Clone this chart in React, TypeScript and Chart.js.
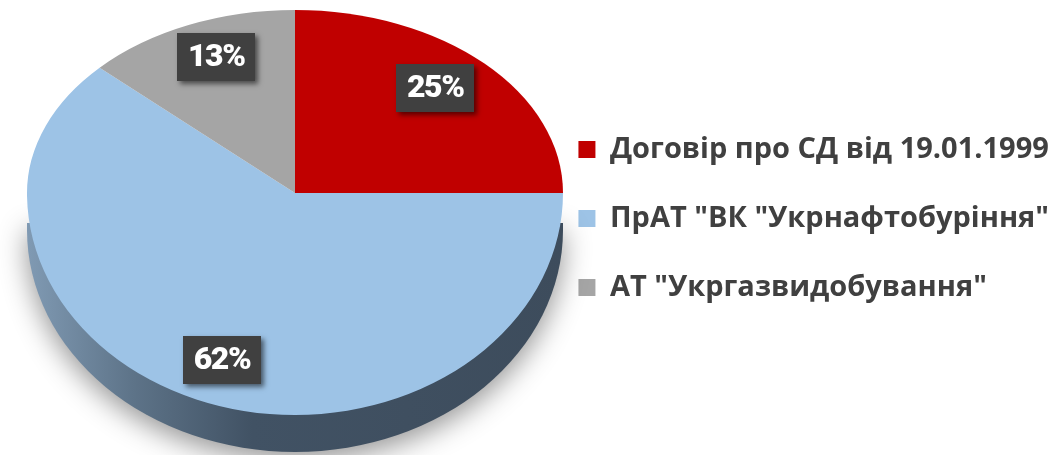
import React, { useEffect, useRef } from 'react';
import { Chart, registerables } from 'chart.js';

Chart.register(...registerables);

const categories = [
  'Договір про СД від 19.01.1999',
  'ПрАТ "ВК "Укрнафтобуріння"',
  'АТ "Укргазвидобування"',
];
const shares = [25, 62, 13];
const sliceColors = ['#C00000', '#9DC3E6', '#A5A5A5'];

const W = 1064;
const H = 455;
// geometry of the tilted (3-D looking) pie
const CX = 295;
const CY = 193;
const RX = 268;
const RY_TOP = 183;
const RY_BOT = 222;
const DEPTH = 37;

const pie3d = {
  id: 'pie3d',
  beforeDatasetsDraw(chart: any) {
    const ctx: CanvasRenderingContext2D = chart.ctx;
    // side wall with soft shadow
    ctx.save();
    const g = ctx.createLinearGradient(CX - RX, 0, CX + RX, 0);
    g.addColorStop(0, '#809ab3');
    g.addColorStop(0.2, '#5d7388');
    g.addColorStop(0.42, '#415264');
    g.addColorStop(1, '#3d4c5c');
    ctx.shadowColor = 'rgba(0,0,0,0.42)';
    ctx.shadowBlur = 28;
    ctx.shadowOffsetY = 8;
    ctx.fillStyle = g;
    ctx.beginPath();
    ctx.ellipse(CX, CY + DEPTH, RX, RY_BOT, 0, 0, Math.PI, false);
    ctx.lineTo(CX - RX, CY + 30);
    ctx.lineTo(CX + RX, CY + 30);
    ctx.closePath();
    ctx.fill();
    ctx.restore();

    // top surface: draw the library's arcs, squashed differently above and below the centre
    const meta = chart.getDatasetMeta(0);
    const halves: [number, number, number][] = [
      [CY - 0.5, H, RY_BOT],
      [0, CY + 0.5, RY_TOP],
    ];
    halves.forEach(([y0, y1, ry]) => {
      ctx.save();
      ctx.beginPath();
      ctx.rect(0, y0, W, y1 - y0);
      ctx.clip();
      meta.data.forEach((arc: any) => {
        const { x, y, outerRadius } = arc.getProps(['x', 'y', 'outerRadius'], true);
        ctx.save();
        ctx.translate(CX, CY);
        ctx.scale(RX / outerRadius, ry / outerRadius);
        ctx.translate(-x, -y);
        arc.draw(ctx);
        ctx.restore();
      });
      ctx.restore();
    });
    return false;
  },
  afterDraw(chart: any) {
    const ctx: CanvasRenderingContext2D = chart.ctx;
    const meta = chart.getDatasetMeta(0);
    const total = shares.reduce((a, b) => a + b, 0);
    meta.data.forEach((arc: any, i: number) => {
      const { startAngle, endAngle } = arc.getProps(['startAngle', 'endAngle'], true);
      const a = (startAngle + endAngle) / 2;
      const c = Math.cos(a);
      const s = Math.sin(a);
      const lx = CX + RX * 0.74 * c;
      const ly = CY + (s < 0 ? RY_TOP : RY_BOT) * 0.81 * s;
      const txt = Math.round((shares[i] / total) * 100) + '%';
      const bw = 78;
      const bh = 48;
      ctx.save();
      ctx.shadowColor = 'rgba(0,0,0,0.55)';
      ctx.shadowBlur = 5;
      ctx.shadowOffsetX = 3;
      ctx.shadowOffsetY = 3;
      ctx.fillStyle = '#404040';
      ctx.fillRect(Math.round(lx - bw / 2), Math.round(ly - bh / 2), bw, bh);
      ctx.restore();
      ctx.save();
      ctx.fillStyle = '#ffffff';
      ctx.font = '900 32px Roboto';
      (ctx as any).letterSpacing = '-1.5px';
      ctx.textAlign = 'center';
      ctx.textBaseline = 'middle';
      ctx.fillText(txt, lx, ly + 1);
      ctx.restore();
    });
  },
};

export default function App() {
  const ref = useRef<HTMLCanvasElement | null>(null);
  useEffect(() => {
    if (!ref.current) return;
    const chart = new Chart(ref.current, {
      type: 'pie',
      data: {
        labels: categories,
        datasets: [
          {
            data: shares,
            backgroundColor: sliceColors,
            borderWidth: 0,
          },
        ],
      },
      options: {
        responsive: false,
        animation: false,
        layout: { padding: { bottom: 18, right: 5 } },
        plugins: {
          tooltip: { enabled: false },
          legend: {
            position: 'right',
            align: 'center',
            labels: {
              boxWidth: 17,
              boxHeight: 17,
              padding: 40,
              color: '#404040',
              font: { family: "'Open Sans'", size: 29, weight: 'bold' },
            },
          },
        },
      },
      plugins: [pie3d],
    });
    return () => chart.destroy();
  }, []);
  return (
    <div style={{ position: 'fixed', left: 0, top: 0, width: W, height: H, background: '#ffffff' }}>
      <canvas ref={ref} width={W} height={H} />
    </div>
  );
}
